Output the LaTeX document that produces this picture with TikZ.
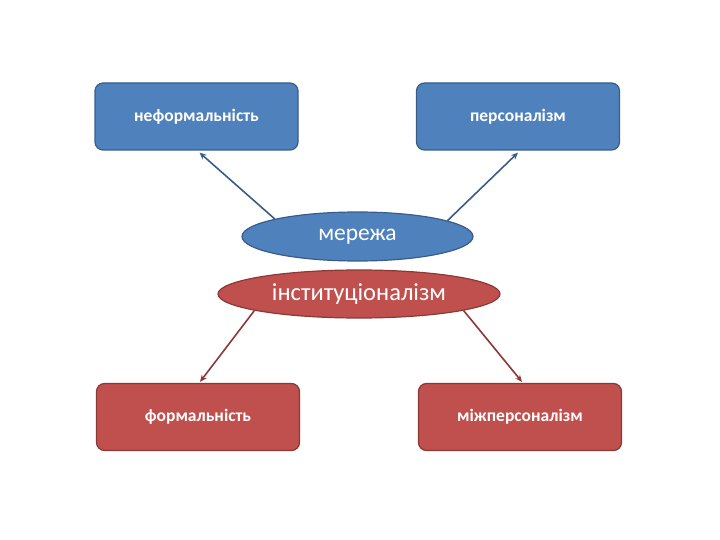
\documentclass[tikz,border=0pt]{standalone}
\usepackage{fontspec}
\setmainfont{Carlito}
\usetikzlibrary{arrows.meta,shapes.geometric}
\definecolor{bluefill}{HTML}{4F81BD}
\definecolor{blueline}{HTML}{385D8A}
\definecolor{redfill}{HTML}{C0504D}
\definecolor{redline}{HTML}{8C3836}
\tikzset{
    blbox/.style={rectangle,rounded corners=8pt,draw=blueline,fill=bluefill,line width=1.2pt,
        minimum width=203pt,minimum height=67pt,inner sep=0pt,text=white,font=\bfseries\fontsize{17.5}{20}\selectfont},
    rdbox/.style={blbox,draw=redline,fill=redfill},
    bloval/.style={ellipse,draw=blueline,fill=bluefill,line width=1.2pt,inner sep=0pt,
        minimum width=231pt,minimum height=49pt,text=white,font=\fontsize{23.5}{26}\selectfont},
    rdoval/.style={bloval,draw=redline,fill=redfill,minimum width=282pt,minimum height=48pt,
        font=\fontsize{24.5}{27}\selectfont},
    bldirected/.style={arrows={-Stealth[length=7pt,width=6pt]},draw=blueline,line width=1.6pt},
    rddirected/.style={bldirected,draw=redline},
    }
\begin{document}
\begin{tikzpicture}[x=1pt,y=-1pt]
    \useasboundingbox (0,0) rectangle (720,540);
		\node[blbox] (neform) at (196.5,116.5) {неформальність};
		\node[blbox] (pers) at (518,116.5) {персоналізм};
		\node[bloval] (mer) at (357.5,236.5) {мережа};
		\node[rdoval] (inst) at (359,294) {інституціоналізм};
		\node[rdbox] (form) at (198,417) {формальність};
		\node[rdbox] (mizh) at (520,417) {міжперсоналізм};
	
	\draw[bldirected] (mer.168) to ([xshift=3pt,yshift=-2pt]neform.south);
	\draw[bldirected] (mer.10) to ([yshift=-2pt]pers.south);
        \draw[rddirected] (inst.189) to ([xshift=2pt,yshift=1pt]form.north);
        \draw[rddirected] (inst.351) to ([xshift=2pt,yshift=1pt]mizh.north);
    \end{tikzpicture}
\end{document}
